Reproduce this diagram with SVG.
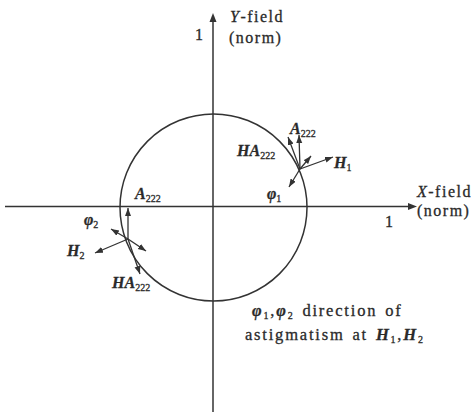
<svg xmlns="http://www.w3.org/2000/svg" width="476" height="414" viewBox="0 0 476 414">
<defs>
<style>
.ax{stroke:#333;stroke-width:1.5;fill:none}
.ar{stroke:#333;stroke-width:1.3;fill:none;marker-end:url(#ah)}
text{font-family:"Liberation Serif","Times New Roman",serif;fill:#2a2a2a;stroke:#2a2a2a;stroke-width:0.3;font-size:16px}
.b{font-weight:bold;font-style:italic}
.s{font-size:10px;font-style:normal;font-weight:normal}
.t{letter-spacing:1.5px}
.n{font-size:16.5px;letter-spacing:1.8px;word-spacing:2px}
</style>
<marker id="ah" markerUnits="userSpaceOnUse" markerWidth="9" markerHeight="7" refX="8" refY="3" orient="auto">
<path d="M0,0 L8,3 L0,6 z" fill="#333"/>
</marker>
</defs>
<rect width="476" height="414" fill="#fff"/>
<g id="axes">
<line class="ax" x1="5" y1="206.5" x2="410" y2="206.5"/>
<path d="M417,206.5 L408,203 L408,210 z" fill="#333"/>
<line class="ax" x1="213" y1="412" x2="213" y2="20"/>
<path d="M213,13 L209.5,22 L216.5,22 z" fill="#333"/>
</g>
<g id="circle"><circle class="ax" cx="213.5" cy="207.5" r="93.5"/></g>
<g id="connectors">
<line class="ar" x1="300" y1="169" x2="299" y2="135"/>
<line class="ar" x1="300" y1="169" x2="288" y2="137"/>
<line class="ar" x1="300" y1="169" x2="311" y2="156"/>
<line class="ar" x1="300" y1="169" x2="333" y2="157"/>
<line class="ar" x1="300" y1="169" x2="289" y2="187"/>
<line class="ar" x1="128" y1="239" x2="128" y2="208"/>
<line class="ar" x1="128" y1="239" x2="140" y2="274"/>
<line class="ar" x1="128" y1="239" x2="146" y2="251"/>
<line class="ar" x1="128" y1="239" x2="111" y2="229"/>
<line class="ar" x1="128" y1="239" x2="95" y2="253"/>
</g>
<g id="yaxis-labels">
<text x="199" y="40" text-anchor="middle">1</text>
<text class="t" x="230" y="22"><tspan font-style="italic">Y</tspan>-field</text>
<text class="t" x="229" y="43">(norm)</text>
</g>
<g id="xaxis-labels">
<text x="389" y="227" text-anchor="middle">1</text>
<text class="t" x="417" y="197"><tspan font-style="italic">X</tspan>-field</text>
<text class="t" x="417" y="216">(norm)</text>
</g>
<g id="right-labels">
<text class="b" x="290" y="134">A<tspan class="s" dy="3">222</tspan></text>
<text class="b" x="237" y="156">HA<tspan class="s" dy="3">222</tspan></text>
<text class="b" x="334" y="168">H<tspan class="s" dy="3">1</tspan></text>
<text class="b" x="267" y="199">φ<tspan class="s" dy="3">1</tspan></text>
</g>
<g id="left-labels">
<text class="b" x="135" y="199">A<tspan class="s" dy="3">222</tspan></text>
<text class="b" x="84" y="225">φ<tspan class="s" dy="3">2</tspan></text>
<text class="b" x="67" y="256">H<tspan class="s" dy="3">2</tspan></text>
<text class="b" x="112" y="288">HA<tspan class="s" dy="3">222</tspan></text>
</g>
<g id="note">
<text class="n" x="252" y="316"><tspan class="b">φ</tspan><tspan class="s" dy="3">1</tspan><tspan dy="-3">,</tspan><tspan class="b">φ</tspan><tspan class="s" dy="3">2</tspan><tspan dy="-3"> direction of</tspan></text>
<text class="n" x="245" y="340">astigmatism at <tspan class="b">H</tspan><tspan class="s" dy="3">1</tspan><tspan dy="-3">,</tspan><tspan class="b">H</tspan><tspan class="s" dy="3">2</tspan></text>
</g>
</svg>
